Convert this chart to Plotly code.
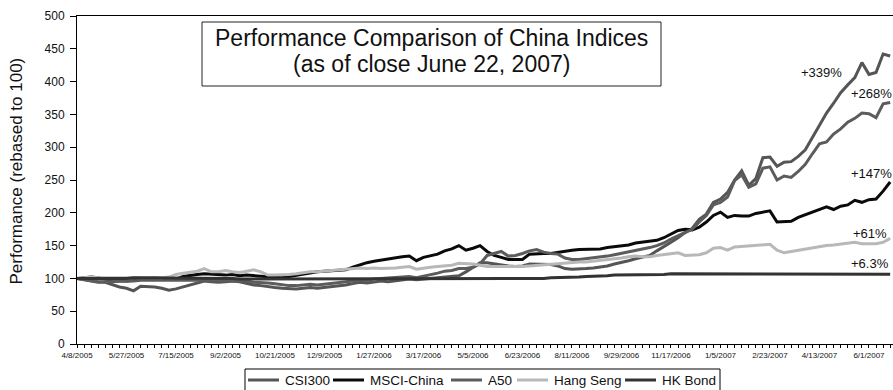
import pandas as pd
import plotly.graph_objects as go

# Weekly closes (Fridays) from 8 Apr 2005 to 22 Jun 2007, rebased to 100
dates = pd.date_range("2005-04-08", periods=116, freq="7D")

csi300 = [
    100, 98, 95, 94, 94, 90, 87, 85, 81, 88,
    88, 87, 85, 82, 84, 87, 91, 94, 96, 95,
    94, 95, 96, 95, 92, 90, 89, 87, 86, 85,
    84, 84, 85, 86, 85, 86, 87, 88, 90, 92,
    94, 93, 95, 96, 95, 96, 98, 99, 98, 99,
    100, 101, 102, 103, 104, 110, 117, 124, 124, 122,
    120, 119, 118, 119, 122, 122, 122, 121, 119, 115,
    114, 114, 115, 116, 117, 119, 122, 124, 127, 130,
    133, 135, 142, 148, 155, 162, 170, 176, 190, 198,
    216, 221, 231, 250, 264, 242, 252, 284, 285, 271,
    277, 278, 286, 296, 315, 335, 352, 367, 383, 395,
    406, 429, 411, 414, 442, 439,
]

msci_china = [
    100, 101, 102, 101, 99, 97, 97, 96, 97, 99,
    100, 101, 100, 101, 99, 103, 105, 106, 107, 106,
    105, 105, 106, 104, 105, 104, 103, 102, 102, 101,
    103, 105, 107, 109, 110, 111, 112, 112, 113, 117,
    121, 124, 126, 128, 129, 131, 133, 134, 127, 132,
    134, 137, 142, 145, 150, 143, 146, 150, 141, 135,
    132, 129, 129, 129, 137, 138, 138, 138, 140, 141,
    143, 144, 144, 145, 145, 147, 148, 149, 151, 154,
    155, 156, 158, 162, 167, 173, 175, 174, 178, 186,
    196, 201, 193, 196, 195, 195, 199, 201, 203, 186,
    186, 187, 193, 197, 201, 206, 209, 205, 210, 212,
    219, 216, 220, 221, 233, 247,
]

a50 = [
    100, 98, 96, 95, 95, 95, 96, 96, 96, 97,
    97, 97, 97, 97, 97, 98, 98, 98, 98, 97,
    97, 96, 96, 97, 96, 94, 94, 93, 92, 90,
    89, 89, 90, 91, 90, 91, 92, 93, 95, 96,
    98, 97, 99, 100, 100, 101, 102, 103, 101, 103,
    106, 108, 111, 112, 115, 115, 117, 122, 135, 138,
    141, 134, 135, 138, 142, 144, 140, 138, 137, 131,
    129, 129, 130, 131, 132, 134, 136, 138, 140, 142,
    145, 147, 150, 154, 160, 165, 169, 175, 186, 196,
    212, 216, 224, 249, 258, 239, 244, 268, 270, 250,
    256, 254, 263, 274, 290, 305, 308, 320, 328, 338,
    344, 352, 351, 345, 366, 368,
]

hang_seng = [
    100, 101, 102, 101, 101, 100, 101, 100, 100, 101,
    101, 100, 101, 102, 106, 108, 109, 111, 115, 110,
    110, 112, 110, 109, 111, 113, 110, 105, 105, 105,
    106, 107, 109, 110, 110, 111, 112, 112, 113, 115,
    116, 115, 116, 115, 115, 116, 117, 118, 114, 116,
    117, 118, 119, 120, 123, 123, 122, 120, 118, 118,
    118, 118, 117, 118, 119, 120, 121, 122, 123, 124,
    124, 125, 125, 126, 127, 128, 130, 131, 133, 134,
    133, 133, 135, 136, 137, 139, 135, 136, 136, 139,
    146, 147, 143, 148, 149, 150, 150, 151, 152, 143,
    139, 141, 143, 145, 147, 149, 150, 151, 152, 154,
    155, 153, 153, 153, 155, 161,
]

hk_bond = [
    100, 100, 99, 99, 99, 100, 100, 100, 101, 101,
    101, 100, 100, 100, 100, 101, 101, 101, 101, 100,
    100, 100, 100, 99, 99, 99, 99, 99, 99, 99,
    99, 99, 99, 99, 99, 100, 100, 100, 100, 100,
    100, 100, 100, 100, 100, 100, 100, 100, 100, 100,
    100, 100, 100, 100, 100, 100, 100, 100, 100, 100,
    100, 100, 100, 100, 100, 100, 100, 101, 101, 101,
    102, 102, 103, 103, 104, 104, 105, 105, 105, 106,
    106, 106, 106, 106, 107, 107, 107, 106, 106, 106,
    107, 107, 107, 106, 106, 106, 106, 107, 107, 107,
    107, 106, 106, 106, 106, 106, 107, 107, 107, 106,
    106, 106, 106, 106, 106, 106.3,
]

series_names = ["CSI300", "MSCI-China", "A50", "Hang Seng", "HK Bond"]
series_values = [csi300, msci_china, a50, hang_seng, hk_bond]
series_colors = ["#555555", "#0a0a0a", "#5c5c5c", "#b8b8b8", "#333333"]

FONT = "Liberation Sans, Arial, Helvetica, sans-serif"

fig = go.Figure()
for name, vals, color in zip(series_names, series_values, series_colors):
    fig.add_trace(go.Scatter(
        x=dates, y=vals, name=name, mode="lines",
        line=dict(color=color, width=3), showlegend=False,
    ))

# plot-area geometry (pixels) used to place decorations in paper coords
L, T, W, H = 77, 16, 816, 328


def px(xp):
    return (xp - L) / W


def py(yp):
    return (T + H - yp) / H


# end-of-period performance labels, one per series (same order as names)
label_pos = [(821, 72), (871, 173), (871, 93.5), (870, 233), (870, 263)]
for vals, (lx, ly) in zip(series_values, label_pos):
    chg = vals[-1] - 100
    txt = f"+{chg:.1f}%" if chg < 10 else f"+{chg:.0f}%"
    fig.add_annotation(
        x=px(lx), y=py(ly), xref="paper", yref="paper", text=txt,
        showarrow=False, xanchor="center", yanchor="middle",
        font=dict(family=FONT, size=13, color="#111111"),
    )

# boxed chart title
fig.add_shape(
    type="rect", xref="paper", yref="paper",
    x0=px(202), x1=px(661), y0=py(86), y1=py(22),
    line=dict(color="#222222", width=1), fillcolor="white",
)
fig.add_annotation(
    x=px(431.5), y=py(37.5), xref="paper", yref="paper",
    text="Performance Comparison of China Indices", showarrow=False,
    xanchor="center", yanchor="middle",
    font=dict(family=FONT, size=23, color="#111111"),
)
fig.add_annotation(
    x=px(431.5), y=py(64.5), xref="paper", yref="paper",
    text="(as of close June 22, 2007)", showarrow=False,
    xanchor="center", yanchor="middle",
    font=dict(family=FONT, size=23, color="#111111"),
)

# y-axis title
fig.add_annotation(
    x=px(15.5), y=py(171), xref="paper", yref="paper",
    text="Performance (rebased to 100)", showarrow=False, textangle=-90,
    xanchor="center", yanchor="middle",
    font=dict(family=FONT, size=17, color="#111111"),
)

# compact boxed legend below the axis: line swatch + name per series
leg_top, leg_bottom, leg_mid = 369, 392, 380
fig.add_shape(
    type="rect", xref="paper", yref="paper",
    x0=px(245), x1=px(720), y0=py(leg_bottom), y1=py(leg_top),
    line=dict(color="#000000", width=1), fillcolor="white",
)
swatch_x = [248, 333, 451, 517, 625]
for name, color, sx in zip(series_names, series_colors, swatch_x):
    fig.add_shape(
        type="line", xref="paper", yref="paper",
        x0=px(sx), x1=px(sx + 31), y0=py(leg_mid), y1=py(leg_mid),
        line=dict(color=color, width=3),
    )
    fig.add_annotation(
        x=px(sx + 35), y=py(leg_mid), xref="paper", yref="paper",
        text=name, showarrow=False, xanchor="left", yanchor="middle",
        font=dict(family=FONT, size=13.5, color="#111111"),
    )

week_ms = 7 * 86400000
fig.update_xaxes(
    type="date",
    range=[dates[0], dates[0] + pd.Timedelta(days=807.8)],
    tick0=dates[0], dtick=7 * week_ms, tickformat="%-m/%-d/%Y",
    ticks="outside", ticklen=3, tickcolor="#000", tickwidth=1,
    minor=dict(dtick=week_ms, tick0=dates[0], ticks="outside", ticklen=3,
               tickcolor="#000", tickwidth=1),
    showline=True, linecolor="#000", linewidth=1, mirror=True,
    showgrid=False, zeroline=False,
    tickfont=dict(family=FONT, size=8, color="#111"),
)
fig.update_yaxes(
    range=[0, 500], dtick=50, tick0=0,
    ticks="outside", ticklen=6, tickcolor="#000", tickwidth=1,
    showline=True, linecolor="#000", linewidth=1,
    showgrid=False, zeroline=False,
    tickfont=dict(family=FONT, size=12, color="#111"),
    ticklabelstandoff=3,
)

fig.update_layout(
    width=893, height=390,
    margin=dict(l=L, r=0, t=T, b=390 - T - H),
    paper_bgcolor="white", plot_bgcolor="white",
    font=dict(family=FONT),
    showlegend=False,
)

fig.write_html("out.html")
